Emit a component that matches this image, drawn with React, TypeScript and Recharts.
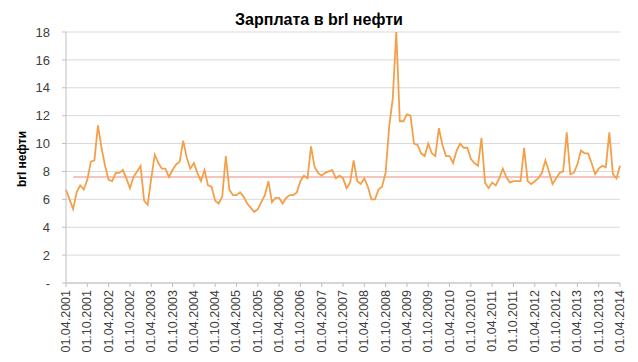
import React from "react";
import {
  LineChart,
  Line,
  XAxis,
  YAxis,
  CartesianGrid,
  ReferenceLine,
} from "recharts";

// monthly dates from 01.04.2001 to 01.04.2014
const FIRST_YEAR = 2001;
const FIRST_MONTH = 4;
const MONTH_COUNT = 157;

const DATES: string[] = Array.from({ length: MONTH_COUNT }, (_, i) => {
  const m = FIRST_MONTH - 1 + i;
  const year = FIRST_YEAR + Math.floor(m / 12);
  const month = (m % 12) + 1;
  return `01.${String(month).padStart(2, "0")}.${year}`;
});

// salary expressed in barrels of oil
const SALARY_BRL = [
  6.7, 6.0, 5.3, 6.5, 7.0, 6.7, 7.4, 8.7, 8.8, 11.3, 9.7, 8.4,
  7.4, 7.3, 7.9, 7.9, 8.1, 7.5, 6.8, 7.6, 8.0, 8.4, 5.9, 5.6,
  7.5, 9.2, 8.6, 8.2, 8.2, 7.6, 8.1, 8.5, 8.7, 10.2, 9.0, 8.2,
  8.6, 7.9, 7.3, 8.1, 7.0, 6.9, 5.9, 5.7, 6.2, 9.1, 6.7, 6.3,
  6.3, 6.5, 6.2, 5.7, 5.4, 5.1, 5.3, 5.8, 6.3, 7.3, 5.8, 6.1,
  6.1, 5.7, 6.1, 6.3, 6.3, 6.5, 7.3, 7.7, 7.5, 9.8, 8.3, 7.9,
  7.7, 7.9, 8.0, 8.1, 7.5, 7.7, 7.5, 6.8, 7.2, 8.8, 7.3, 7.1,
  7.5, 6.9, 6.0, 6.0, 6.7, 6.9, 7.9, 11.2, 13.2, 18.0, 11.6, 11.6,
  12.1, 12.0, 10.0, 9.9, 9.3, 9.1, 10.0, 9.3, 9.1, 11.1, 9.9, 9.1,
  9.1, 8.6, 9.5, 10.0, 9.7, 9.7, 8.9, 8.6, 8.4, 10.4, 7.2, 6.8,
  7.2, 7.0, 7.5, 8.2, 7.6, 7.2, 7.3, 7.3, 7.3, 9.7, 7.3, 7.1,
  7.3, 7.5, 7.9, 8.8, 8.0, 7.1, 7.5, 7.9, 8.0, 10.8, 7.8, 7.9,
  8.5, 9.5, 9.3, 9.3, 8.6, 7.8, 8.2, 8.4, 8.3, 10.8, 7.8, 7.5,
  8.4,
];

const AVERAGE = 7.6;
const AVERAGE_FROM = 2;

const Y_TICKS = [0, 2, 4, 6, 8, 10, 12, 14, 16, 18];

const FONT = "'Liberation Sans', Arial, sans-serif";

const data = DATES.map((date, i) => ({ date, value: SALARY_BRL[i] }));

const DateTick = (props: any) => {
  const { x, y, payload } = props;
  return (
    <text
      x={x}
      y={y}
      transform={`rotate(-90, ${x}, ${y})`}
      textAnchor="end"
      dominantBaseline="central"
      fontSize={12.5}
      fontFamily={FONT}
      fill="#404040"
    >
      {payload.value}
    </text>
  );
};

export default function App() {
  return (
    <div
      style={{
        position: "absolute",
        left: 0,
        top: 0,
        width: 638,
        height: 362,
        background: "#fff",
        fontFamily: FONT,
      }}
    >
      <div
        style={{
          position: "absolute",
          top: 10,
          left: 0,
          width: 638,
          textAlign: "center",
          fontSize: 16,
          lineHeight: "20px",
          fontWeight: "bold",
          color: "#000",
        }}
      >
        Зарплата в brl нефти
      </div>

      <div
        style={{
          position: "absolute",
          left: 21.5,
          top: 159,
          transform: "translate(-50%, -50%) rotate(-90deg)",
          whiteSpace: "nowrap",
          fontSize: 12,
          fontWeight: "bold",
          color: "#000",
        }}
      >
        brl нефти
      </div>

      <LineChart
        width={638}
        height={362}
        data={data}
        margin={{ top: 32, right: 18, bottom: 4, left: 0 }}
      >
        <CartesianGrid
          vertical={false}
          stroke="#d9d9d9"
          strokeWidth={1}
        />
        <XAxis
          dataKey="date"
          interval={5}
          height={75}
          tick={<DateTick />}
          tickSize={4}
          tickMargin={3}
          axisLine={{ stroke: "#bfbfbf" }}
          tickLine={{ stroke: "#bfbfbf" }}
        />
        <YAxis
          width={66}
          domain={[0, 18]}
          ticks={Y_TICKS}
          interval={0}
          tickFormatter={(v: number) => (v === 0 ? "-" : String(v))}
          tickSize={4}
          tickMargin={12}
          axisLine={{ stroke: "#bfbfbf" }}
          tickLine={{ stroke: "#bfbfbf" }}
          tick={{ fontSize: 13, fill: "#404040", fontFamily: FONT }}
        />
        <ReferenceLine
          segment={[
            { x: DATES[AVERAGE_FROM], y: AVERAGE },
            { x: DATES[DATES.length - 1], y: AVERAGE },
          ]}
          stroke="#ec8a80"
          strokeWidth={1.2}
        />
        <Line
          type="linear"
          dataKey="value"
          stroke="#f4a04a"
          strokeWidth={1.8}
          dot={false}
          isAnimationActive={false}
        />
      </LineChart>
    </div>
  );
}
